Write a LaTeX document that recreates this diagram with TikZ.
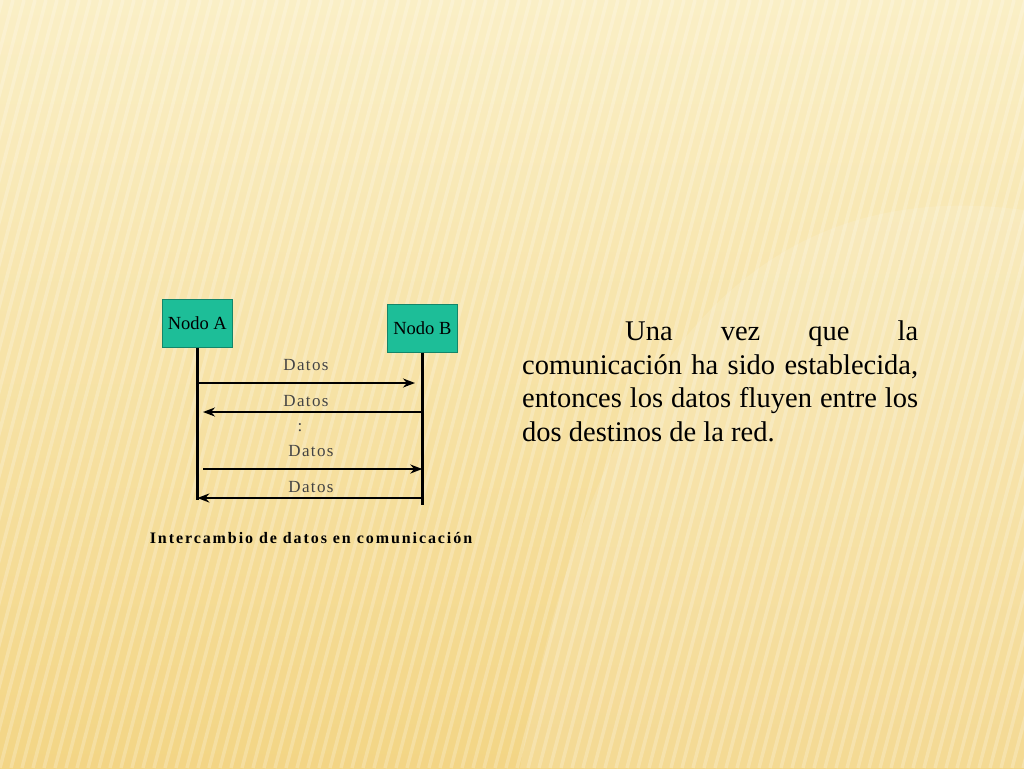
\documentclass[tikz,border=0pt]{standalone}
\usepackage{fontspec}
\setmainfont{Liberation Serif}
\newfontfamily\capfont[LetterSpace=12]{Liberation Serif}
\newfontfamily\labfont[LetterSpace=8]{Liberation Serif}
\usetikzlibrary{arrows.meta}
\definecolor{bgtop}{HTML}{FAEFC6}
\definecolor{bgbot}{HTML}{F3D585}
\definecolor{nodeteal}{HTML}{1DBE98}
\definecolor{labgray}{HTML}{444444}
\tikzset{
  nodebox/.style={draw=nodeteal!70!black, line width=0.6pt, fill=nodeteal, minimum width=70pt, minimum height=48pt, inner sep=0pt, font=\fontsize{18.5}{20}\selectfont},
  lifeline/.style={line width=2.6pt, black},
  msg/.style={line width=2.2pt, black, -{Stealth[length=12pt,width=9pt]}},
  msglabel/.style={font=\labfont\fontsize{17}{19}\selectfont, text=labgray, inner sep=0pt},
}
\begin{document}
\begin{tikzpicture}[x=1pt,y=-1pt]
\shade[top color=bgtop, bottom color=bgbot] (0,0) rectangle (1024,768);
\useasboundingbox (0,0) rectangle (1024,768);
\begin{scope}
\clip (0,0) rectangle (1024,768);
\foreach \i in {-30,...,100} {
  \draw[white, opacity=0.22, line width=3.5pt] (\i*11,768) -- (\i*11+200,0);
}
\fill[white, opacity=0.12] (520,768) .. controls (600,300) and (800,180) .. (1024,210) -- (1024,768) -- cycle;
\end{scope}
% nodes
\node[nodebox, anchor=north west] (A) at (162,299) {Nodo A};
\node[nodebox, anchor=north west] (B) at (387,304) {Nodo B};
\coordinate (Aend) at (A.south |- 0,500);
\coordinate (Bend) at (B.south |- 0,505);
\draw[lifeline] (A.south) -- (Aend);
\draw[lifeline] (B.south) -- (Bend);
% messages
\coordinate (a1) at (A.south |- 0,383); \coordinate (b1) at (415,383);
\coordinate (b2) at (B.south |- 0,412); \coordinate (a2) at (203,412);
\coordinate (a3) at (203,469); \coordinate (b3) at (B.south |- 0,469);
\coordinate (b4) at (B.south |- 0,498); \coordinate (a4) at (A.south |- 0,498);
\draw[msg] (a1) -- (b1);
\draw[msg] (b2) -- (a2);
\draw[msg] (a3) -- (b3);
\draw[msg] (b4) -- (a4);
\node[msglabel] (l1) at (306,365) {Datos};
\node[msglabel] (l2) at (306,401) {Datos};
\node[msglabel] (dots) at (300,428) {:};
\node[msglabel] (l3) at (311,451) {Datos};
\node[msglabel] (l4) at (311,487) {Datos};
\node[font=\capfont\bfseries\fontsize{16}{18}\selectfont, inner sep=0pt] (cap) at (311,538) {Intercambio de datos en comunicación};
% paragraph
\node[anchor=north west, text width=396pt, align=justify, inner sep=0pt, font=\fontsize{28.5}{33.5}\selectfont] (txt) at (522,321) {\hyphenpenalty=10000\exhyphenpenalty=10000\hspace*{103pt}Una vez que la\linebreak comunicación ha sido establecida,\linebreak entonces los datos fluyen entre los\linebreak dos destinos de la red.};
\end{tikzpicture}
\end{document}
